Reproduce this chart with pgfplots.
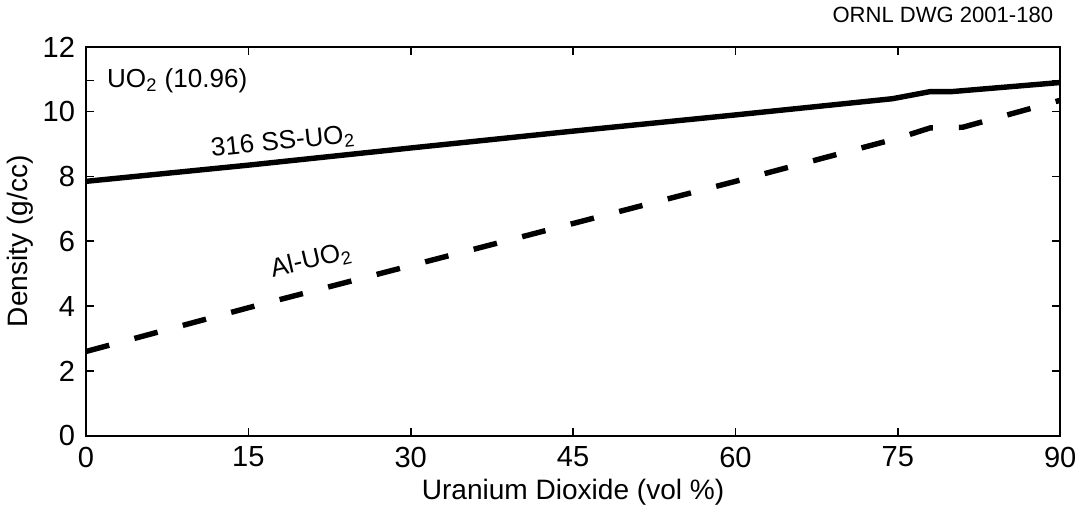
\documentclass[border=0pt]{standalone}
\usepackage{fontspec}
\setmainfont{Liberation Sans}
\usepackage{pgfplots}
\pgfplotsset{compat=1.18}
\begin{document}
\begin{tikzpicture}
\begin{axis}[
    scale only axis,
    width=486pt, height=194pt,
    xmin=0, xmax=90, ymin=0, ymax=12,
    xtick={0,15,...,90}, ytick={0,2,...,12},
    extra y ticks={10.96}, extra y tick labels={},
    tick align=inside,
    major tick length=4pt,
    axis line style={line width=0.8pt},
    tick style={line width=0.8pt, black},
    tick label style={font=\fontsize{14.5}{16}\selectfont},
    xticklabel style={yshift=-2pt},
    yticklabel style={xshift=-2pt},
    /pgf/number format/assume math mode=true,
    xlabel={Uranium Dioxide (vol \%)},
    ylabel={Density (g/cc)},
    label style={font=\fontsize{14}{16}\selectfont},
    xlabel style={yshift=1pt},
    ylabel style={yshift=-2pt},
    clip=false,
]
\addplot[black, line width=2.7pt] coordinates {
    (0,7.85) (15,8.35) (30,8.88) (45,9.40) (60,9.90) (74.5,10.40) (78,10.62) (80,10.62) (90,10.90)};
\addplot[black, line width=2.7pt, dash pattern=on 12pt off 13pt] coordinates {
    (0,2.6) (15,3.95) (30,5.25) (45,6.55) (60,7.85) (75,9.18) (78,9.50) (81,9.52) (90,10.35)};
\node[anchor=west, font=\fontsize{13}{15}\selectfont] at (axis cs:1.3,10.96) {UO\textsubscript{2} (10.96)};
\node[rotate=6, font=\fontsize{13}{15}\selectfont] at (axis cs:18.2,9.05) {316 SS-UO\textsubscript{2}};
\node[rotate=13, font=\fontsize{13}{15}\selectfont] at (axis cs:20.8,5.4) {Al-UO\textsubscript{2}};
\node[anchor=south east, font=\fontsize{11}{13}\selectfont] at (rel axis cs:1,1.045) {ORNL DWG 2001-180};
\end{axis}
\end{tikzpicture}
\end{document}
